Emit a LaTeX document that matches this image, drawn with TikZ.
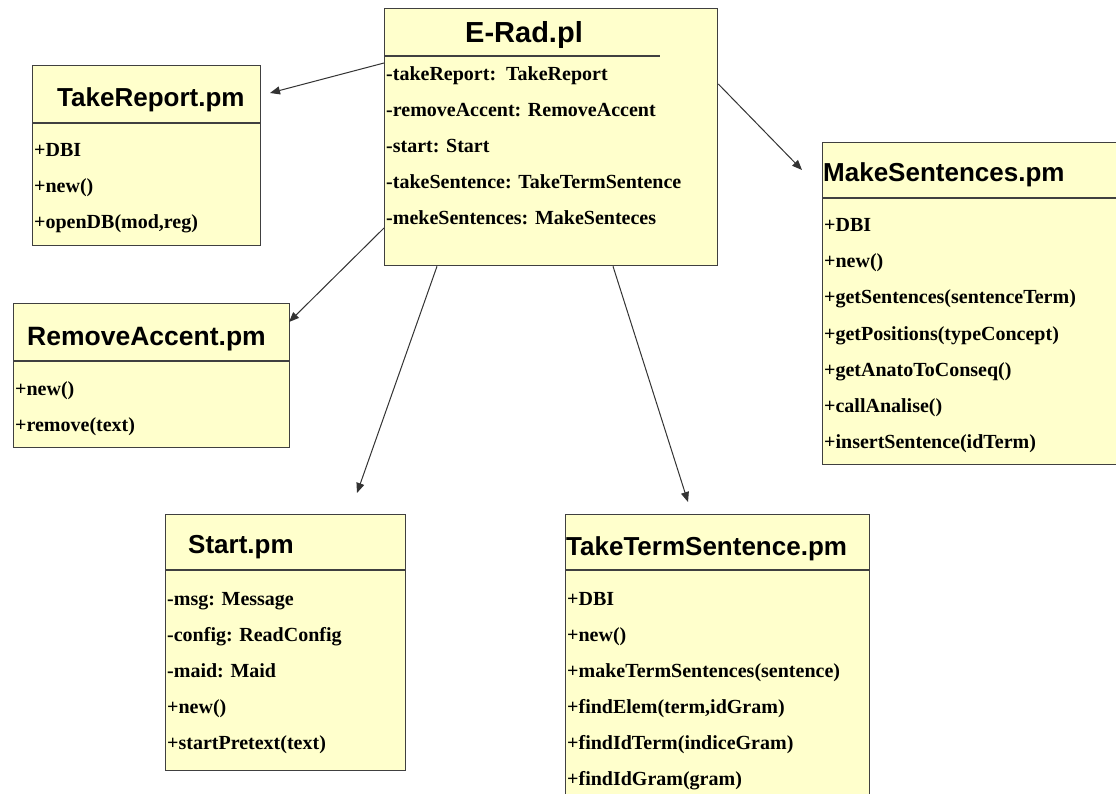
\documentclass[tikz,border=0pt]{standalone}
\usepackage{fontspec}
\setmainfont{Liberation Serif}
\newfontfamily\headfont{Liberation Sans}
\usetikzlibrary{arrows.meta}
\definecolor{classfill}{HTML}{FFFFCC}
\definecolor{classline}{HTML}{404040}
\definecolor{linkline}{HTML}{333333}
\tikzset{
  classbox/.style={draw=classline, line width=1.3pt, fill=classfill, inner sep=0pt, anchor=north west},
  classtitle/.style={font=\headfont\bfseries\fontsize{26}{26}\selectfont, anchor=base west, inner sep=0pt},
  member/.style={font=\bfseries\fontsize{20}{20}\selectfont, anchor=base west, inner sep=0pt},
  divider/.style={draw=classline, line width=1.3pt},
  link/.style={draw=linkline, line width=1pt, -{Triangle[length=10pt,width=8pt]}},
}
\begin{document}
\begin{tikzpicture}[x=1pt, y=-1pt]
\useasboundingbox (0,0) rectangle (1116,794);
\fill[white] (0,0) rectangle (1116,794);
\clip (0,0) rectangle (1116,794);

% main script
\node[classbox, minimum width=333pt, minimum height=257pt] (erad) at (384,8) {};
\draw[divider] ([yshift=-48pt]erad.north west) -- ++(276,0);
\node[classtitle, font=\headfont\bfseries\fontsize{29}{29}\selectfont] (eradT) at (465,43) {E-Rad.pl};
\node[member] (erad1) at (386,81) {-takeReport:\ \ TakeReport};
\node[member] (erad2) at (386,117) {-removeAccent: RemoveAccent};
\node[member] (erad3) at (386,153) {-start: Start};
\node[member] (erad4) at (386,189) {-takeSentence: TakeTermSentence};
\node[member] (erad5) at (386,225) {-mekeSentences: MakeSenteces};

% TakeReport.pm
\node[classbox, minimum width=228pt, minimum height=180pt] (tr) at (32,65) {};
\draw[divider] ([yshift=-58pt]tr.north west) -- ([yshift=-58pt]tr.north east);
\node[classtitle] (trT) at (57,107) {TakeReport.pm};
\node[member] (tr1) at (34,157) {+DBI};
\node[member] (tr2) at (34,193) {+new()};
\node[member] (tr3) at (34,229) {+openDB(mod,reg)};

% RemoveAccent.pm
\node[classbox, minimum width=276pt, minimum height=144pt] (ra) at (13,303) {};
\draw[divider] ([yshift=-58pt]ra.north west) -- ([yshift=-58pt]ra.north east);
\node[classtitle, font=\headfont\bfseries\fontsize{26.5}{26.5}\selectfont] (raT) at (27,345) {RemoveAccent.pm};
\node[member] (ra1) at (15,395) {+new()};
\node[member] (ra2) at (15,431) {+remove(text)};

% MakeSentences.pm
\node[classbox, minimum width=300pt, minimum height=322pt] (ms) at (822,142) {};
\draw[divider] ([yshift=-56pt]ms.north west) -- ([yshift=-56pt]ms.north east);
\node[classtitle] (msT) at (823,182) {MakeSentences.pm};
\node[member] (ms1) at (824,232) {+DBI};
\node[member] (ms2) at (824,268) {+new()};
\node[member] (ms3) at (824,304) {+getSentences(sentenceTerm)};
\node[member] (ms4) at (824,340) {+getPositions(typeConcept)};
\node[member] (ms5) at (824,376) {+getAnatoToConseq()};
\node[member] (ms6) at (824,412) {+callAnalise()};
\node[member] (ms7) at (824,448) {+insertSentence(idTerm)};

% Start.pm
\node[classbox, minimum width=240pt, minimum height=256pt] (st) at (165,514) {};
\draw[divider] ([yshift=-56pt]st.north west) -- ([yshift=-56pt]st.north east);
\node[classtitle] (stT) at (188,553) {Start.pm};
\node[member] (st1) at (167,605) {-msg: Message};
\node[member] (st2) at (167,641) {-config: ReadConfig};
\node[member] (st3) at (167,677) {-maid: Maid};
\node[member] (st4) at (167,713) {+new()};
\node[member] (st5) at (167,749) {+startPretext(text)};

% TakeTermSentence.pm
\node[classbox, minimum width=304pt, minimum height=300pt] (tts) at (565,514) {};
\draw[divider] ([yshift=-56pt]tts.north west) -- ([yshift=-56pt]tts.north east);
\node[classtitle] (ttsT) at (566,555) {TakeTermSentence.pm};
\node[member] (tts1) at (567,605) {+DBI};
\node[member] (tts2) at (567,641) {+new()};
\node[member] (tts3) at (567,677) {+makeTermSentences(sentence)};
\node[member] (tts4) at (567,713) {+findElem(term,idGram)};
\node[member] (tts5) at (567,749) {+findIdTerm(indiceGram)};
\node[member] (tts6) at (567,785) {+findIdGram(gram)};

% arrow tips
\coordinate (tipTR) at (270,93);
\coordinate (tipRA) at (289,322);
\coordinate (tipST) at (357,493);
\coordinate (tipTTS) at (688,502);
\coordinate (tipMS) at (802,170);

\draw[link] ([yshift=-55pt]erad.north west) -- (tipTR);
\draw[link] ([yshift=-220pt]erad.north west) -- (tipRA);
\draw[link] ([xshift=53pt]erad.south west) -- (tipST);
\draw[link] ([xshift=229pt]erad.south west) -- (tipTTS);
\draw[link] ([yshift=-76pt]erad.north east) -- (tipMS);
\end{tikzpicture}
\end{document}
